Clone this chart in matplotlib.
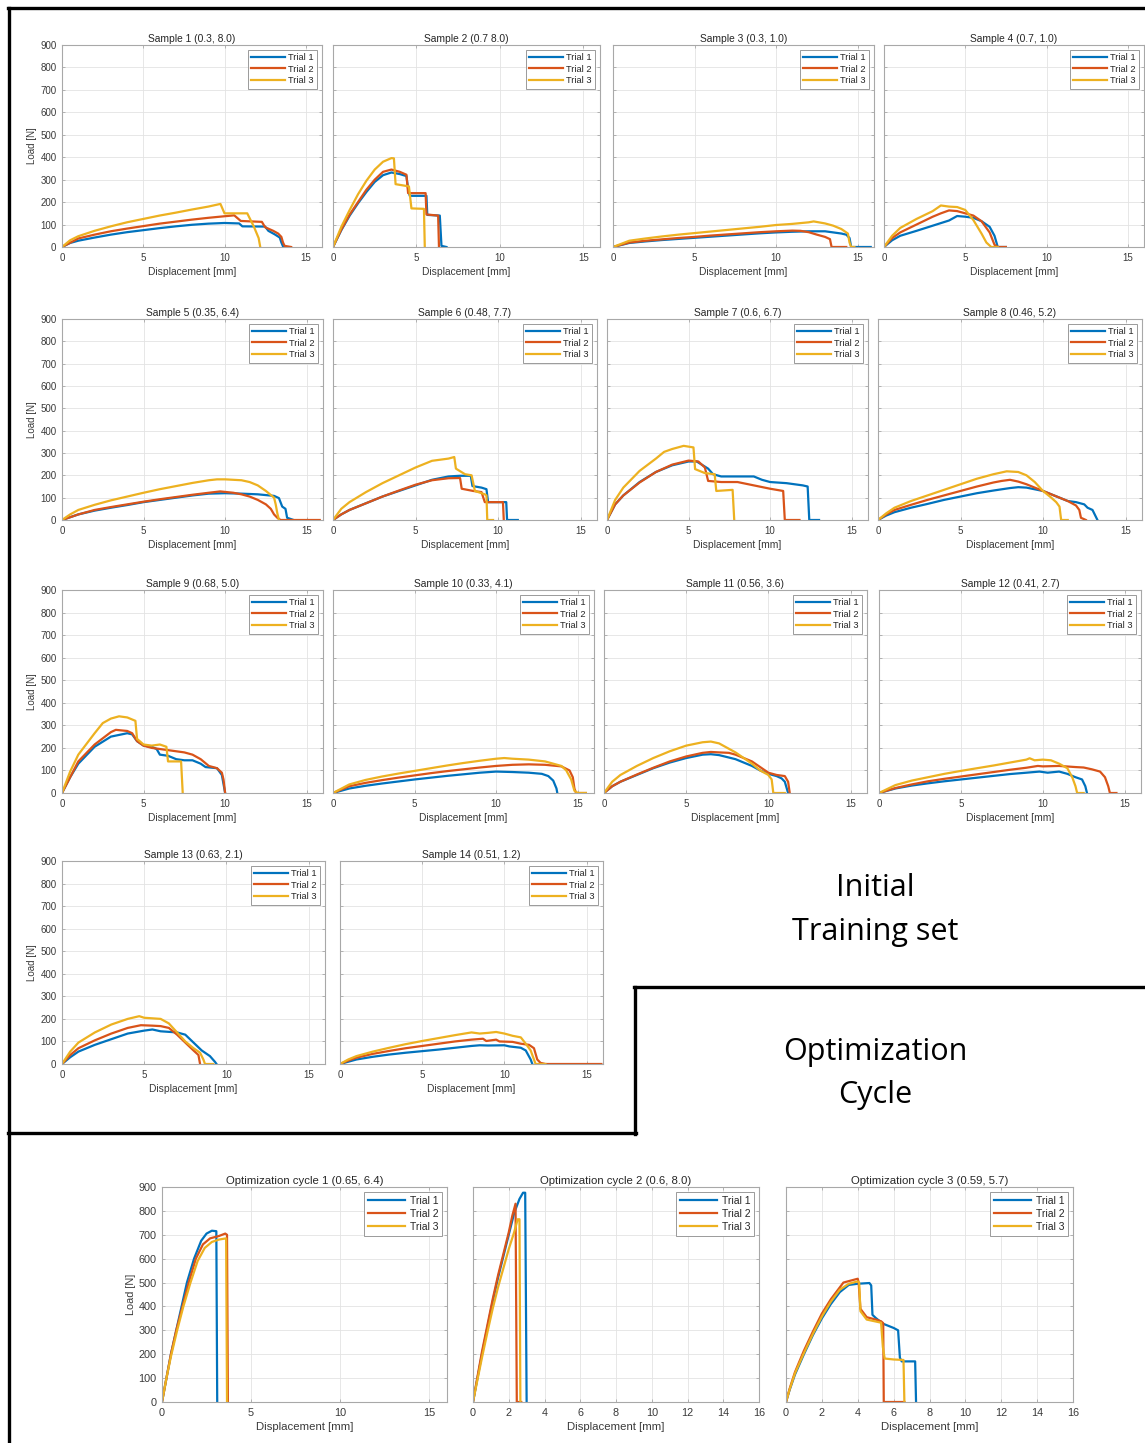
import matplotlib
matplotlib.use("Agg")
import matplotlib.pyplot as plt
from matplotlib.lines import Line2D

plt.rcParams["font.family"] = ["Liberation Sans", "DejaVu Sans"]

W, H = 1145, 1443

# ---- data: (displacement mm, load N) points ----
S1_T1 = [(0, 0), (0.5, 18), (1, 28), (2, 42), (3, 55), (4, 66), (5, 75), (6, 84), (7, 92), (8, 99),
         (9, 104), (10, 107), (10.9, 105), (11.1, 92), (12.5, 91), (12.7, 72), (13.1, 56), (13.4, 42),
         (13.5, 20), (13.6, 3), (13.8, 0)]
S1_T2 = [(0, 0), (1, 38), (2, 55), (3, 70), (4, 82), (5, 93), (6, 104), (7, 113), (8, 122), (9, 130),
         (10, 137), (10.6, 141), (11.0, 116), (12.3, 112), (12.5, 88), (13.0, 72), (13.3, 60),
         (13.5, 45), (13.6, 20), (13.7, 5), (14.1, 0)]
S1_T3 = [(0, 0), (0.5, 30), (1, 48), (2, 72), (3, 92), (4, 110), (5, 125), (6, 140), (7, 153), (8, 167),
         (9, 180), (9.75, 192), (10.0, 150), (11.4, 150), (11.8, 92), (12.1, 40), (12.2, 0)]

S2_T1 = [(0, 0), (0.5, 75), (1, 140), (1.5, 195), (2, 245), (2.5, 290), (3, 320), (3.5, 332), (4, 325),
         (4.4, 316), (4.5, 260), (4.6, 228), (5.6, 228), (5.65, 143), (6.4, 140), (6.5, 5), (6.8, 0)]
S2_T2 = [(0, 0), (0.5, 78), (1, 145), (1.5, 200), (2, 255), (2.5, 300), (3, 335), (3.5, 345), (4, 335),
         (4.4, 322), (4.5, 240), (5.55, 240), (5.6, 145), (6.3, 140), (6.35, 0)]
S2_T3 = [(0, 0), (0.5, 90), (1, 165), (1.5, 235), (2, 295), (2.5, 345), (3, 380), (3.5, 396), (3.65, 395),
         (3.75, 280), (4.55, 270), (4.7, 172), (5.45, 170), (5.5, 0)]

S3_T1 = [(0, 0), (1, 18), (2, 25), (3, 31), (4, 36), (5, 41), (6, 46), (7, 51), (8, 56), (9, 61), (10, 65),
         (11, 68), (12, 70), (13, 70), (13.5, 65), (14.0, 60), (14.3, 55), (14.5, 40), (14.6, 0), (15.8, 0)]
S3_T2 = [(0, 0), (1, 20), (2, 28), (3, 34), (4, 40), (5, 45), (6, 51), (7, 56), (8, 61), (9, 66), (10, 70),
         (11, 73), (11.5, 72), (12, 66), (12.5, 55), (13, 45), (13.3, 35), (13.4, 0), (14.3, 0)]
S3_T3 = [(0, 0), (1, 28), (2, 38), (3, 47), (4, 55), (5, 62), (6, 69), (7, 76), (8, 83), (9, 90), (10, 98),
         (11, 103), (12, 110), (12.3, 114), (13, 105), (13.5, 95), (14, 80), (14.4, 60), (14.5, 20),
         (14.6, 0), (14.8, 0)]

S4_T1 = [(0, 0), (0.5, 30), (1, 50), (2, 72), (3, 95), (4, 118), (4.5, 138), (5, 135), (5.5, 130),
         (6, 115), (6.5, 90), (6.8, 50), (7.0, 0), (7.5, 0)]
S4_T2 = [(0, 0), (0.5, 40), (1, 65), (2, 100), (3, 135), (3.5, 150), (4, 163), (4.5, 160), (5, 150),
         (5.5, 140), (6, 115), (6.5, 65), (6.8, 10), (7.0, 0), (7.5, 0)]
S4_T3 = [(0, 0), (0.5, 50), (1, 85), (2, 125), (3, 160), (3.5, 185), (4, 180), (4.5, 178), (5, 165),
         (5.5, 120), (6, 60), (6.3, 20), (6.6, 0), (7, 0)]

S5_T1 = [(0, 0), (1, 25), (2, 42), (3, 55), (4, 67), (5, 80), (6, 90), (7, 100), (8, 110), (9, 118),
         (10, 120), (11, 118), (12, 115), (13, 108), (13.3, 98), (13.5, 60), (13.7, 50), (13.8, 10),
         (14.0, 5), (14.2, 0)]
S5_T2 = [(0, 0), (1, 25), (2, 45), (3, 58), (4, 70), (5, 82), (6, 93), (7, 103), (8, 113), (9, 122),
         (9.7, 128), (10.5, 122), (11, 115), (11.5, 105), (12, 90), (12.5, 70), (12.8, 50), (13, 25),
         (13.2, 10), (13.4, 0), (15.8, 0)]
S5_T3 = [(0, 0), (0.5, 25), (1, 45), (2, 68), (3, 88), (4, 105), (5, 122), (6, 138), (7, 152), (8, 166),
         (9, 178), (9.5, 182), (10, 182), (11, 178), (11.5, 170), (12, 155), (12.5, 130), (13, 100),
         (13.1, 70), (13.2, 30), (13.3, 0)]

S6_T1 = [(0, 0), (0.5, 25), (1, 45), (2, 75), (3, 105), (4, 130), (5, 155), (6, 180), (7, 195),
         (7.7, 198), (8.35, 198), (8.45, 152), (9, 145), (9.3, 138), (9.4, 80), (10.5, 80), (10.55, 0),
         (11.2, 0)]
S6_T2 = [(0, 0), (0.5, 25), (1, 45), (2, 75), (3, 105), (4, 132), (5, 158), (6, 178), (7, 187),
         (7.7, 188), (7.8, 140), (8.5, 130), (9, 125), (9.2, 80), (10.3, 80), (10.35, 0)]
S6_T3 = [(0, 0), (0.5, 50), (1, 80), (2, 125), (3, 165), (4, 200), (5, 235), (6, 265), (7, 275),
         (7.35, 282), (7.45, 230), (8, 205), (8.4, 200), (8.6, 130), (9.2, 115), (9.3, 110), (9.35, 0),
         (9.7, 0)]

S7_T1 = [(0, 0), (0.5, 70), (1, 110), (2, 170), (3, 215), (4, 245), (5, 262), (5.5, 262), (6.2, 230),
         (6.5, 205), (7, 195), (8, 195), (9, 195), (9.5, 180), (10, 170), (11, 165), (12, 155),
         (12.3, 150), (12.4, 0), (13, 0)]
S7_T2 = [(0, 0), (0.5, 70), (1, 110), (2, 168), (3, 215), (4, 248), (5, 266), (5.6, 262), (6.0, 235),
         (6.2, 175), (7, 170), (8, 170), (9, 155), (10, 140), (10.8, 130), (10.9, 0), (11.8, 0)]
S7_T3 = [(0, 0), (0.5, 90), (1, 145), (2, 220), (3, 275), (3.5, 305), (4, 318), (4.7, 332), (5.3, 325),
         (5.4, 228), (6.0, 210), (6.6, 205), (6.7, 130), (7.7, 135), (7.8, 0)]

S8_T1 = [(0, 0), (0.5, 20), (1, 35), (2, 55), (3, 72), (4, 90), (5, 105), (6, 120), (7, 132), (8, 143),
         (8.5, 147), (9, 145), (10, 130), (10.5, 115), (11, 100), (11.5, 85), (12, 80), (12.5, 70),
         (12.7, 55), (13, 45), (13.2, 15), (13.3, 0)]
S8_T2 = [(0, 0), (0.5, 25), (1, 45), (2, 68), (3, 90), (4, 110), (5, 130), (6, 150), (7, 168), (7.5, 175),
         (8, 180), (8.5, 172), (9, 160), (9.5, 145), (10, 130), (10.5, 115), (11, 100), (11.5, 85),
         (12, 65), (12.2, 45), (12.3, 10), (12.6, 0)]
S8_T3 = [(0, 0), (0.5, 30), (1, 55), (2, 85), (3, 110), (4, 135), (5, 160), (6, 185), (7, 205), (7.8, 218),
         (8.5, 215), (9, 200), (9.5, 170), (10, 130), (10.5, 100), (10.8, 80), (11.0, 60), (11.1, 0),
         (11.5, 0)]

S9_T1 = [(0, 0), (0.5, 70), (1, 130), (2, 205), (3, 250), (4, 265), (4.3, 260), (4.6, 230), (5, 210),
         (5.5, 205), (5.8, 195), (6, 170), (6.5, 165), (7, 150), (7.5, 145), (8, 145), (8.5, 130),
         (8.8, 115), (9.5, 110), (9.8, 80), (10, 0)]
S9_T2 = [(0, 0), (0.5, 70), (1, 140), (2, 215), (3, 270), (3.3, 280), (4, 275), (4.3, 265), (4.6, 230),
         (5, 210), (5.5, 200), (6, 195), (7, 185), (7.5, 180), (8, 170), (8.5, 150), (9, 120),
         (9.5, 110), (9.8, 90), (9.9, 60), (10, 0)]
S9_T3 = [(0, 0), (0.5, 95), (1, 170), (2, 265), (2.5, 310), (3, 330), (3.5, 340), (4, 335), (4.5, 320),
         (4.6, 240), (5, 215), (5.5, 210), (6, 215), (6.4, 205), (6.5, 140), (7.3, 140), (7.4, 0)]

S10_T1 = [(0, 0), (1, 20), (2, 32), (3, 42), (4, 51), (5, 60), (6, 68), (7, 76), (8, 83), (9, 90),
          (10, 95), (11, 93), (12, 90), (12.8, 85), (13.2, 75), (13.5, 55), (13.7, 20), (13.75, 0)]
S10_T2 = [(0, 0), (1, 30), (2, 45), (3, 57), (4, 68), (5, 78), (6, 88), (7, 97), (8, 105), (9, 113),
          (10, 120), (11, 125), (12, 127), (13, 125), (14, 118), (14.5, 100), (14.7, 70), (14.8, 20),
          (14.9, 0), (15.5, 0)]
S10_T3 = [(0, 0), (1, 38), (2, 58), (3, 73), (4, 86), (5, 98), (6, 110), (7, 122), (8, 133), (9, 143),
          (10, 152), (10.5, 155), (11, 152), (12, 148), (13, 140), (13.5, 130), (14, 120), (14.3, 100),
          (14.6, 60), (14.8, 10), (15, 0), (15.5, 0)]

S11_T1 = [(0, 0), (0.5, 30), (1, 50), (2, 80), (3, 110), (4, 135), (5, 155), (6, 170), (6.5, 172),
          (7, 168), (8, 150), (9, 120), (9.5, 100), (10, 85), (10.5, 75), (10.8, 65), (11.0, 50),
          (11.2, 0)]
S11_T2 = [(0, 0), (0.5, 30), (1, 50), (2, 82), (3, 112), (4, 140), (5, 162), (6, 178), (6.5, 182),
          (7, 180), (7.6, 178), (8, 170), (9, 140), (9.5, 115), (10, 90), (10.5, 80), (11, 75),
          (11.2, 50), (11.3, 0)]
S11_T3 = [(0, 0), (0.5, 50), (1, 80), (2, 120), (3, 155), (4, 185), (5, 210), (6, 225), (6.5, 228),
          (7, 220), (8, 180), (9, 130), (9.5, 100), (10, 80), (10.2, 60), (10.3, 0), (11, 0)]

S12_T1 = [(0, 0), (1, 20), (2, 33), (3, 43), (4, 52), (5, 60), (6, 68), (7, 76), (8, 84), (9, 90),
          (9.8, 95), (10.3, 90), (11, 95), (11.5, 85), (12, 70), (12.4, 60), (12.6, 30), (12.7, 0)]
S12_T2 = [(0, 0), (1, 22), (2, 38), (3, 52), (4, 63), (5, 73), (6, 83), (7, 93), (8, 103), (9, 112),
          (9.7, 120), (10, 118), (11, 120), (12, 115), (12.5, 113), (13, 105), (13.5, 95), (13.8, 70),
          (14, 30), (14.1, 0), (14.5, 0)]
S12_T3 = [(0, 0), (1, 35), (2, 55), (3, 70), (4, 85), (5, 98), (6, 110), (7, 122), (8, 135), (9, 148),
          (9.2, 154), (9.5, 145), (10, 148), (10.5, 145), (11, 130), (11.5, 110), (11.8, 70), (12, 30),
          (12.1, 0), (12.5, 0)]

S13_T1 = [(0, 0), (0.5, 30), (1, 55), (2, 85), (3, 110), (4, 135), (5, 148), (5.5, 153), (6, 145),
          (7, 140), (7.5, 130), (8, 95), (8.5, 60), (9, 35), (9.3, 10), (9.4, 0)]
S13_T2 = [(0, 0), (0.5, 40), (1, 70), (2, 105), (3, 135), (4, 160), (4.8, 172), (5.5, 170), (6, 168),
          (6.5, 160), (7, 130), (7.5, 95), (8, 60), (8.3, 40), (8.4, 0)]
S13_T3 = [(0, 0), (0.5, 55), (1, 95), (2, 140), (3, 175), (4, 200), (4.7, 212), (5, 205), (6, 200),
          (6.5, 180), (7, 140), (7.5, 100), (8, 70), (8.4, 50), (8.6, 20), (8.7, 0), (9.2, 0)]

S14_T1 = [(0, 0), (0.5, 10), (1, 20), (2, 32), (3, 42), (4, 50), (5, 57), (6, 64), (7, 72), (8, 80),
          (8.5, 83), (9, 82), (10, 83), (10.3, 78), (11, 72), (11.3, 60), (11.6, 20), (11.7, 0)]
S14_T2 = [(0, 0), (0.5, 15), (1, 28), (2, 45), (3, 58), (4, 70), (5, 80), (6, 90), (7, 100), (8, 108),
          (8.7, 112), (8.9, 102), (9.5, 108), (9.7, 100), (10.5, 98), (11, 90), (11.5, 85), (11.8, 70),
          (12.0, 20), (12.2, 5), (12.5, 0), (15.9, 0)]
S14_T3 = [(0, 0), (0.5, 20), (1, 35), (2, 55), (3, 72), (4, 88), (5, 102), (6, 115), (7, 128), (8, 140),
          (8.5, 135), (9, 138), (9.5, 142), (10, 135), (10.5, 125), (11, 118), (11.3, 90), (11.6, 60),
          (11.8, 20), (11.9, 0), (12.5, 0)]

O1_T1 = [(0, 0), (0.25, 100), (0.5, 200), (0.8, 300), (1.1, 400), (1.4, 500), (1.8, 600), (2.2, 675),
         (2.5, 705), (2.8, 717), (3.05, 715), (3.1, 0)]
O1_T2 = [(0, 0), (0.25, 100), (0.5, 200), (0.8, 300), (1.15, 400), (1.5, 500), (1.9, 600), (2.3, 660),
         (2.7, 685), (3.2, 695), (3.55, 705), (3.65, 700), (3.7, 0)]
O1_T3 = [(0, 0), (0.25, 100), (0.5, 190), (0.85, 300), (1.2, 400), (1.6, 500), (2.0, 590), (2.4, 645),
         (2.8, 670), (3.2, 680), (3.6, 685), (3.65, 0)]

O2_T1 = [(0, 0), (0.2, 80), (0.5, 200), (0.8, 310), (1.1, 420), (1.4, 520), (1.7, 610), (2.0, 700),
         (2.3, 790), (2.6, 850), (2.8, 876), (2.92, 876), (3.0, 0)]
O2_T2 = [(0, 0), (0.2, 85), (0.5, 210), (0.8, 320), (1.1, 430), (1.4, 530), (1.7, 620), (2.0, 710),
         (2.2, 780), (2.38, 830), (2.45, 0), (2.7, 0)]
O2_T3 = [(0, 0), (0.2, 75), (0.5, 185), (0.8, 290), (1.1, 390), (1.4, 480), (1.7, 560), (2.0, 640),
         (2.3, 710), (2.5, 765), (2.6, 765), (2.65, 0)]

O3_T1 = [(0, 0), (0.2, 50), (0.5, 115), (1, 200), (1.5, 280), (2, 350), (2.5, 410), (3, 460),
         (3.5, 490), (4, 495), (4.65, 498), (4.75, 488), (4.82, 365), (5.0, 352), (5.4, 328), (6.0, 310),
         (6.25, 300), (6.35, 185), (6.45, 170), (7.2, 170), (7.25, 0)]
O3_T2 = [(0, 0), (0.2, 55), (0.5, 125), (1, 215), (1.5, 295), (2, 370), (2.5, 430), (3, 480), (3.2, 500),
         (4, 516), (4.05, 500), (4.15, 390), (4.5, 355), (5, 345), (5.3, 338), (5.42, 330), (5.45, 0),
         (6.6, 0)]
O3_T3 = [(0, 0), (0.2, 52), (0.5, 120), (1, 205), (1.5, 285), (2, 358), (2.5, 420), (3, 470), (3.5, 495),
         (4, 505), (4.08, 500), (4.15, 380), (4.5, 345), (5, 337), (5.3, 332), (5.4, 230), (5.5, 182),
         (6, 178), (6.55, 176), (6.6, 0)]

SAMPLE_TITLES = ["Sample 1 (0.3, 8.0)", "Sample 2 (0.7 8.0)", "Sample 3 (0.3, 1.0)", "Sample 4 (0.7, 1.0)",
                 "Sample 5 (0.35, 6.4)", "Sample 6 (0.48, 7.7)", "Sample 7 (0.6, 6.7)", "Sample 8 (0.46, 5.2)",
                 "Sample 9 (0.68, 5.0)", "Sample 10 (0.33, 4.1)", "Sample 11 (0.56, 3.6)",
                 "Sample 12 (0.41, 2.7)", "Sample 13 (0.63, 2.1)", "Sample 14 (0.51, 1.2)"]
SAMPLE_CURVES = [(S1_T1, S1_T2, S1_T3), (S2_T1, S2_T2, S2_T3), (S3_T1, S3_T2, S3_T3),
                 (S4_T1, S4_T2, S4_T3), (S5_T1, S5_T2, S5_T3), (S6_T1, S6_T2, S6_T3),
                 (S7_T1, S7_T2, S7_T3), (S8_T1, S8_T2, S8_T3), (S9_T1, S9_T2, S9_T3),
                 (S10_T1, S10_T2, S10_T3), (S11_T1, S11_T2, S11_T3), (S12_T1, S12_T2, S12_T3),
                 (S13_T1, S13_T2, S13_T3), (S14_T1, S14_T2, S14_T3)]
OPT_TITLES = ["Optimization cycle 1 (0.65, 6.4)", "Optimization cycle 2 (0.6, 8.0)",
              "Optimization cycle 3 (0.59, 5.7)"]
OPT_CURVES = [(O1_T1, O1_T2, O1_T3), (O2_T1, O2_T2, O2_T3), (O3_T1, O3_T2, O3_T3)]
TRIALS = ["Trial 1", "Trial 2", "Trial 3"]
COLORS = ["#0072BD", "#D95319", "#EDB120"]

# ---- layout in pixels: (left, right, top, bottom) ----
SAMPLE_BOXES = [
    (62, 322, 45, 247), (333, 600, 45, 247), (613, 874, 45, 247), (884, 1144, 45, 247),
    (62, 323, 319, 520), (333, 597, 319, 520), (607, 868, 319, 520), (878, 1142, 319, 520),
    (62, 323, 590, 793), (333, 594, 590, 793), (604, 867, 590, 793), (879, 1141, 590, 793),
    (62, 325, 861, 1064), (340, 603, 861, 1064),
]
OPT_BOXES = [(162, 447, 1187, 1402), (473, 759, 1187, 1402), (786, 1073, 1187, 1402)]


def px_axes(fig, box):
    l, r, t, b = box
    return fig.add_axes([l / W, 1 - b / H, (r - l) / W, (b - t) / H])


def style_axes(ax, title, xticks, show_y, fs):
    ax.set_xlim(0, 16)
    ax.set_ylim(0, 900)
    ax.set_xticks(xticks)
    ax.set_yticks(range(0, 901, 100))
    ax.grid(True, color="#e3e3e3", lw=0.6)
    ax.set_axisbelow(True)
    for s in ax.spines.values():
        s.set_color("#a8a8a8")
        s.set_linewidth(0.8)
    ax.tick_params(direction="in", top=True, right=True, length=2.5, width=0.6,
                   color="#a8a8a8", labelcolor="#3a3a3a", labelsize=fs, pad=4)
    if show_y:
        ax.set_ylabel("Load [N]", fontsize=fs, color="#3a3a3a", labelpad=2)
    else:
        ax.tick_params(labelleft=False)
    ax.set_xlabel("Displacement [mm]", fontsize=fs + 0.4, color="#3a3a3a", labelpad=3)
    ax.set_title(title, fontsize=fs + 0.4, color="#262626", pad=2.5)


def draw_curves(ax, curves, fs):
    for pts, lab, col in zip(curves, TRIALS, COLORS):
        xs = [p[0] for p in pts]
        ys = [p[1] for p in pts]
        ax.plot(xs, ys, color=col, lw=1.6, label=lab, solid_joinstyle="round")
    leg = ax.legend(loc="upper right", fontsize=fs - 0.3, fancybox=False, framealpha=1,
                    edgecolor="#9a9a9a", handlelength=3.6, handletextpad=0.4,
                    labelspacing=0.3, borderpad=0.35, borderaxespad=0.5)
    leg.get_frame().set_linewidth(0.7)
    for t in leg.get_texts():
        t.set_color("#262626")


fig = plt.figure(figsize=(W / 100, H / 100), dpi=100)

for i, (title, curves, box) in enumerate(zip(SAMPLE_TITLES, SAMPLE_CURVES, SAMPLE_BOXES)):
    ax = px_axes(fig, box)
    style_axes(ax, title, [0, 5, 10, 15], i % 4 == 0, 7)
    draw_curves(ax, curves, 7)

for i, (title, curves, box) in enumerate(zip(OPT_TITLES, OPT_CURVES, OPT_BOXES)):
    ax = px_axes(fig, box)
    ticks = [0, 5, 10, 15] if i == 0 else list(range(0, 17, 2))
    style_axes(ax, title, ticks, i == 0, 7.8)
    draw_curves(ax, curves, 7.8)

# frame lines around the sections
frame = [
    ([8, 1145], [8, 8]),
    ([9, 9], [8, 1443]),
    ([8, 636], [1133, 1133]),
    ([635, 635], [987, 1134]),
    ([634, 1145], [987, 987]),
]
for xs, ys in frame:
    fig.add_artist(Line2D([x / W for x in xs], [1 - y / H for y in ys], color="black", lw=2.4,
                          transform=fig.transFigure))

big = dict(fontsize=22, family=["Open Sans", "DejaVu Sans"], ha="center", va="center", color="black")
fig.text(875 / W, 1 - 888 / H, "Initial", **big)
fig.text(875 / W, 1 - 932 / H, "Training set", **big)
fig.text(875 / W, 1 - 1052 / H, "Optimization", **big)
fig.text(875 / W, 1 - 1095 / H, "Cycle", **big)

fig.savefig("out.png", dpi=100)
